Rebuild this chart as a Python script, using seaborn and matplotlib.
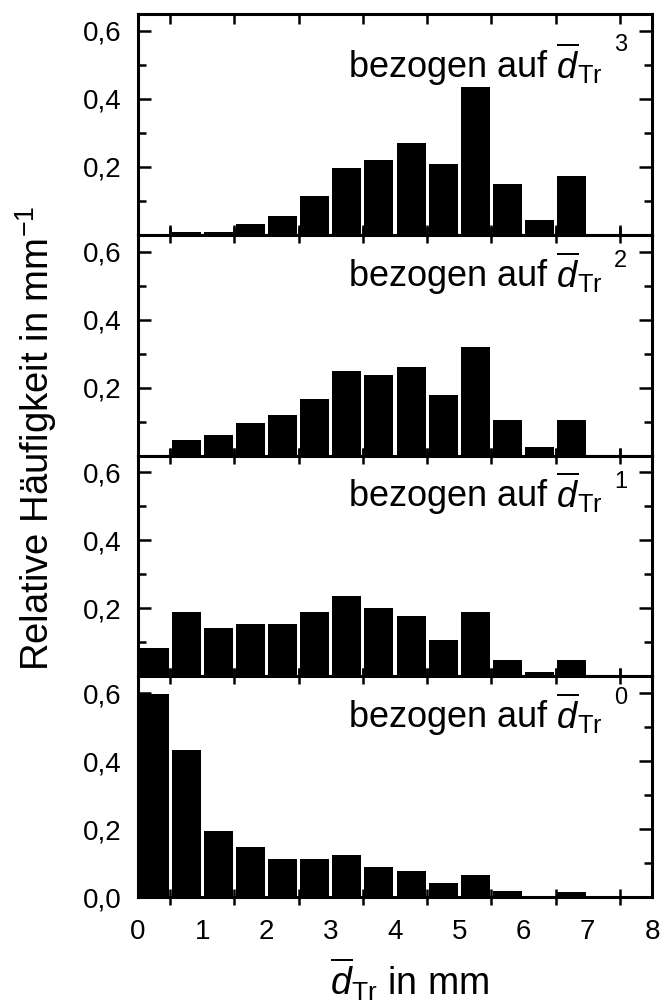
import matplotlib
matplotlib.use('Agg')
import matplotlib.pyplot as plt
import seaborn as sns
import pandas as pd

# bin centres of d_Tr in mm
d_tr = [0.25, 0.75, 1.25, 1.75, 2.25, 2.75, 3.25, 3.75,
        4.25, 4.75, 5.25, 5.75, 6.25, 6.75, 7.25, 7.75]

# relative frequencies (per mm), weighted with d_Tr^n
h3 = [0.0, 0.007, 0.007, 0.031, 0.055, 0.114, 0.197, 0.221,
      0.269, 0.209, 0.436, 0.150, 0.043, 0.174, 0.0, 0.0]
h2 = [0.0, 0.047, 0.059, 0.095, 0.118, 0.165, 0.248, 0.236,
      0.260, 0.177, 0.319, 0.106, 0.024, 0.106, 0.0, 0.0]
h1 = [0.083, 0.189, 0.142, 0.153, 0.153, 0.189, 0.236, 0.200,
      0.177, 0.106, 0.189, 0.047, 0.012, 0.047, 0.0, 0.0]
h0 = [0.598, 0.434, 0.195, 0.148, 0.112, 0.112, 0.124, 0.088,
      0.076, 0.041, 0.064, 0.017, 0.004, 0.015, 0.0, 0.0]

exponents = ['3', '2', '1', '0']
series = [h3, h2, h1, h0]
y_labels = ['0,2', '0,4', '0,6']

sns.set_style('ticks')
plt.rcParams['font.family'] = ['Liberation Sans', 'DejaVu Sans']
plt.rcParams['mathtext.fontset'] = 'custom'
plt.rcParams['mathtext.rm'] = 'Liberation Sans'
plt.rcParams['mathtext.it'] = 'Liberation Sans:italic'
plt.rcParams['mathtext.bf'] = 'Liberation Sans:bold'
for key in ['text.color', 'axes.labelcolor', 'xtick.color', 'ytick.color']:
    plt.rcParams[key] = 'black'

fig, axes = plt.subplots(4, 1, figsize=(6.61, 10.08), dpi=100, sharex=True,
                         gridspec_kw=dict(hspace=0))
fig.subplots_adjust(left=0.2088, right=0.9864, bottom=0.1101, top=0.9861)

text_y = [0.71, 0.762, 0.765, 0.767]
exp_y = [0.86, 0.88, 0.882, 0.90]

for i, (ax, h, n) in enumerate(zip(axes, series, exponents)):
    df = pd.DataFrame({'d': d_tr, 'h': h})
    sns.barplot(data=df, x='d', y='h', native_scale=True, width=0.9,
                color='black', edgecolor='black', linewidth=0,
                errorbar=None, ax=ax)
    ax.set_xlim(0, 8)
    ax.set_ylim(0, 0.65)
    ax.set_xlabel('')
    ax.set_ylabel('')
    for sp in ax.spines.values():
        sp.set_visible(True)
        sp.set_linewidth(2.2)
        sp.set_color('black')

    if i == 3:
        ax.set_yticks([0.0, 0.2, 0.4, 0.6], ['0,0'] + y_labels)
    else:
        ax.set_yticks([0.2, 0.4, 0.6], y_labels)
    ax.set_yticks([0.1, 0.3, 0.5], minor=True)
    ax.tick_params(axis='y', which='both', direction='in', left=True, right=True,
                   width=1.8, labelsize=20, pad=12)
    ax.tick_params(axis='y', which='major', length=9.5)
    ax.tick_params(axis='y', which='minor', length=6)

    ax.set_xticks([0.5, 1.5, 2.5, 3.5, 4.5, 5.5, 6.5, 7.5], [''] * 8)
    ax.tick_params(axis='x', which='major', direction='in' if i == 0 else 'inout',
                   top=True, bottom=True, length=7 if i == 0 else 12, width=1.8)

    ax.text(3.27, text_y[i], r'bezogen auf $\overline{d}_{\mathrm{Tr}}$',
            transform=ax.get_xaxis_transform(), fontsize=26,
            ha='left', va='baseline')
    ax.text(7.51, exp_y[i], n, transform=ax.get_xaxis_transform(),
            fontsize=17, ha='center', va='center')

bottom = axes[3]
bottom.set_xticks(range(9), [str(v) for v in range(9)], minor=True)
bottom.tick_params(axis='x', which='minor', length=0, labelsize=20, pad=16)

fig.text(0.054, 0.565, r'Relative Häufigkeit in mm$^{-1}$', rotation=90,
         fontsize=27.5, ha='center', va='center')
fig.text(0.499, 0.013, r'$\overline{d}_{\mathrm{Tr}}$ in mm',
         fontsize=27, ha='left', va='baseline')

fig.savefig('out.png', dpi=100)
